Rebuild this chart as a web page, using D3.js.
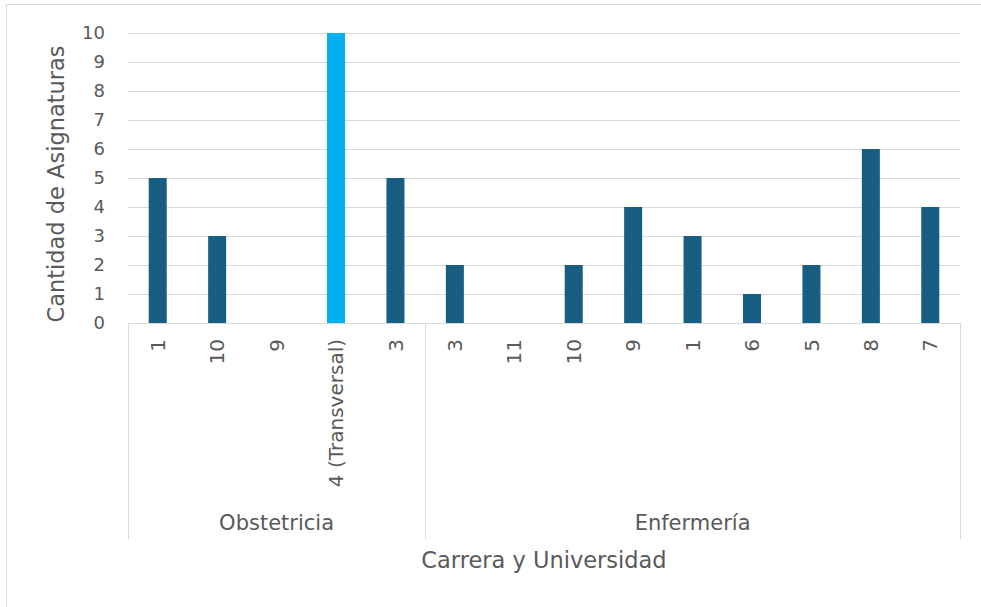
<!DOCTYPE html>
<meta charset="utf-8">
<style>
  body { margin: 0; padding: 0; background: white; }
  svg { display: block; background: white; }
  text { font-family: "DejaVu Sans", sans-serif; fill: #595959; }
</style>
<script src="https://d3js.org/d3.v7.min.js"></script>
<svg id="chart"></svg>
<script>
// data
var carreras = ["Obstetricia", "Enfermería"];
var universidades = [
  ["1", "10", "9", "4 (Transversal)", "3"],
  ["3", "11", "10", "9", "1", "6", "5", "8", "7"]
];
var asignaturas = [
  [5, 3, 0, 10, 5],
  [2, 0, 2, 4, 3, 1, 2, 6, 4]
];
var destacado = "4 (Transversal)";
var yTicks = [0, 1, 2, 3, 4, 5, 6, 7, 8, 9, 10];

var width = 981, height = 607;
var margin = {top: 33, left: 128, right: 21, bottom: 284};

var svg = d3.select("#chart").attr("width", width).attr("height", height);

// outer frame (cut by the window on right/bottom)
svg.append("rect")
  .attr("x", 6.5).attr("y", 4.5)
  .attr("width", width).attr("height", height)
  .attr("fill", "none").attr("stroke", "#d9d9d9");

// flatten categories
var rows = [];
carreras.forEach(function(c, i) {
  universidades[i].forEach(function(u, j) {
    rows.push({carrera: c, uni: u, key: c + "|" + j, value: asignaturas[i][j]});
  });
});

var x = d3.scaleBand()
  .domain(rows.map(d => d.key))
  .range([margin.left, width - margin.right])
  .paddingInner(0.697)
  .paddingOuter(0.3485);

var y = d3.scaleLinear()
  .domain([0, 10])
  .range([height - margin.bottom, margin.top]);

// gridlines
svg.append("g")
  .selectAll("line")
  .data(yTicks.slice(1))
  .enter().append("line")
    .attr("x1", margin.left).attr("x2", width - margin.right)
    .attr("y1", d => y(d) + 0.5).attr("y2", d => y(d) + 0.5)
    .attr("stroke", "#d9d9d9").attr("stroke-width", 1);

// y tick labels
svg.append("g")
  .selectAll("text")
  .data(yTicks)
  .enter().append("text")
    .attr("x", 105)
    .attr("y", d => y(d))
    .attr("dy", "0.36em")
    .attr("text-anchor", "end")
    .style("font-size", "18px")
    .text(d => d);

// bars
svg.append("g")
  .selectAll("rect")
  .data(rows)
  .enter().append("rect")
    .attr("x", d => x(d.key))
    .attr("width", x.bandwidth())
    .attr("y", d => y(d.value))
    .attr("height", d => y(0) - y(d.value))
    .attr("fill", d => d.uni === destacado ? "#00b0f0" : "#175e82");

// x axis line
svg.append("line")
  .attr("x1", margin.left).attr("x2", width - margin.right)
  .attr("y1", y(0) + 0.5).attr("y2", y(0) + 0.5)
  .attr("stroke", "#d9d9d9");

// category labels (rotated)
svg.append("g")
  .selectAll("text")
  .data(rows)
  .enter().append("text")
    .attr("transform", d => "translate(" + (x(d.key) + x.bandwidth() / 2) + ",339) rotate(-90)")
    .attr("dy", "0.36em")
    .attr("text-anchor", "end")
    .style("font-size", "20px")
    .text(d => d.uni);

// group separators and labels
var bounds = [];
var idx = 0;
carreras.forEach(function(c, i) {
  var first = rows[idx].key;
  var last = rows[idx + universidades[i].length - 1].key;
  var x0 = x(first) - x.step() * x.paddingInner() / 2;
  var x1 = x(last) + x.bandwidth() + x.step() * x.paddingInner() / 2;
  bounds.push({c: c, x0: x0, x1: x1});
  idx += universidades[i].length;
});
var seps = [bounds[0].x0].concat(bounds.map(b => b.x1));

svg.append("g")
  .selectAll("line")
  .data(seps)
  .enter().append("line")
    .attr("x1", d => Math.round(d) + 0.5).attr("x2", d => Math.round(d) + 0.5)
    .attr("y1", y(0)).attr("y2", 539)
    .attr("stroke", "#d9d9d9");

svg.append("g")
  .selectAll("text")
  .data(bounds)
  .enter().append("text")
    .attr("x", d => (d.x0 + d.x1) / 2)
    .attr("y", 530)
    .attr("text-anchor", "middle")
    .style("font-size", "21px")
    .text(d => d.c);

// axis titles
svg.append("text")
  .attr("x", 544).attr("y", 568)
  .attr("text-anchor", "middle")
  .style("font-size", "22.5px")
  .text("Carrera y Universidad");

svg.append("text")
  .attr("transform", "translate(64,184) rotate(-90)")
  .attr("text-anchor", "middle")
  .style("font-size", "22.5px")
  .text("Cantidad de Asignaturas");
</script>
